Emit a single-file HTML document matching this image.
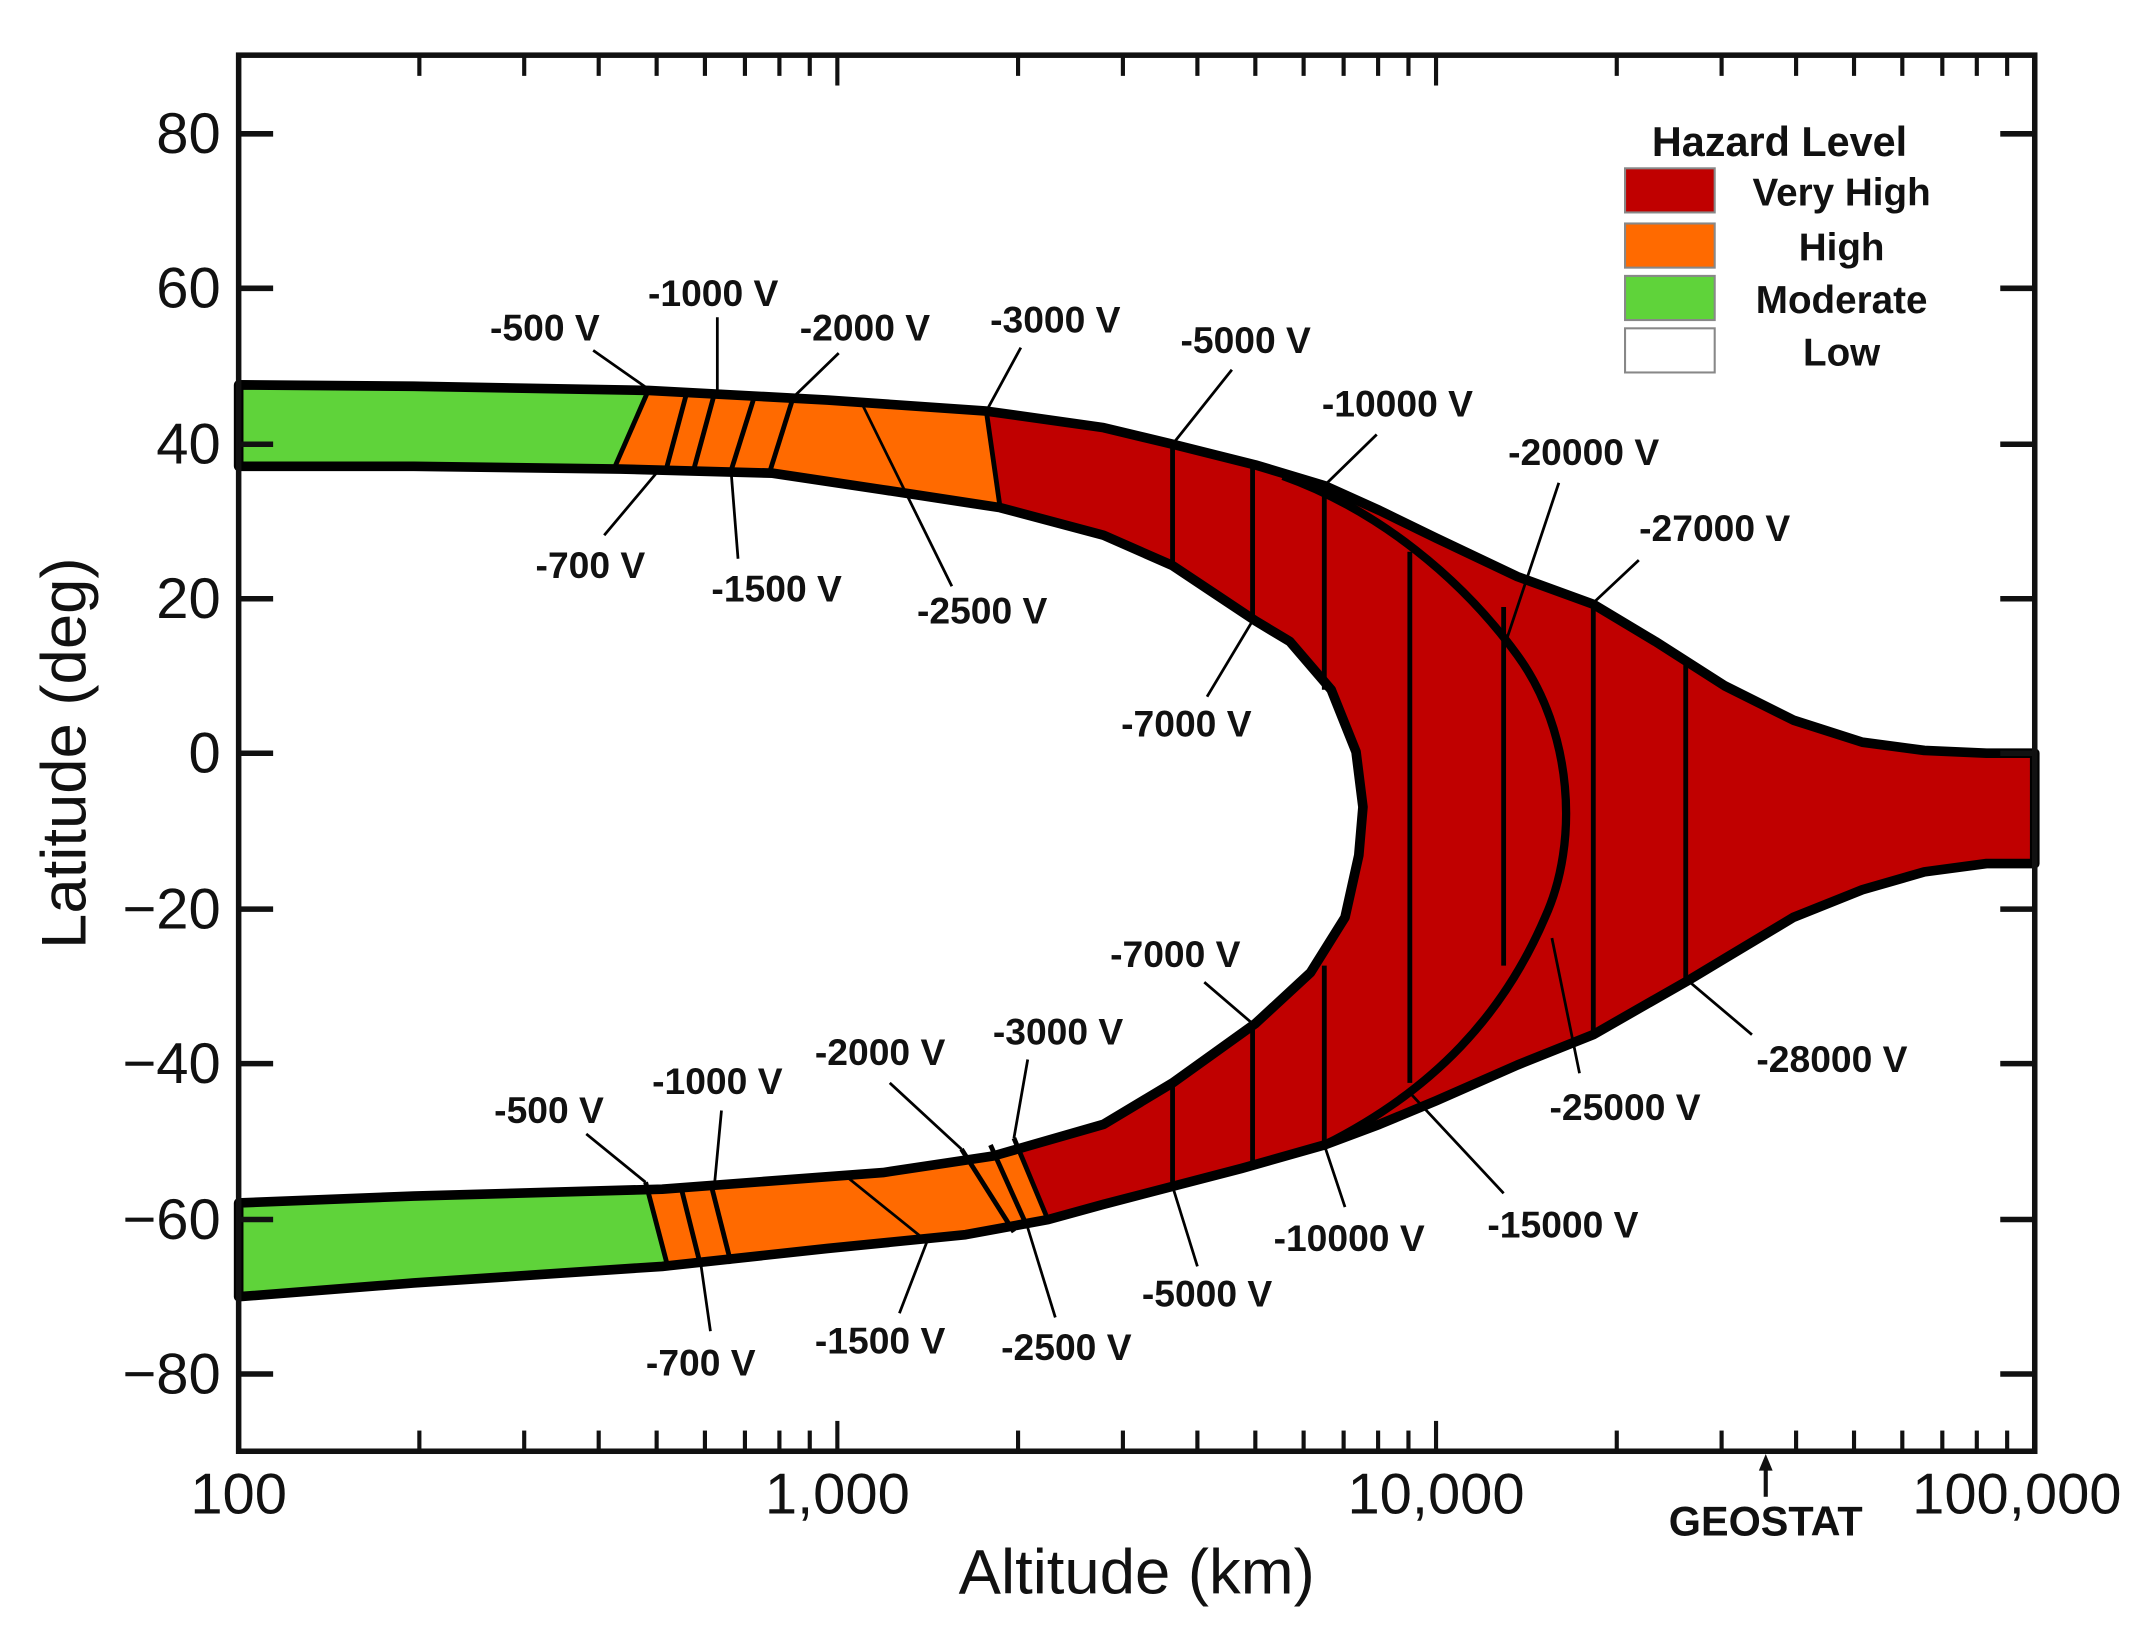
<!DOCTYPE html>
<html><head><meta charset="utf-8"><style>
html,body{margin:0;padding:0;background:#fff;}
svg{display:block;}
text{font-family:"Liberation Sans",Arial,sans-serif;fill:#111;}
.v{font-weight:bold;font-size:27px;text-anchor:middle;}
.t{font-size:42px;}
</style></head><body>
<svg width="2152" height="1627" viewBox="0 0 1560 1179.4" preserveAspectRatio="none" xmlns="http://www.w3.org/2000/svg">
<defs>
<clipPath id="band"><path id="bp" d="M173,279 L300,280 L470,283 L600,290 L715,298 L800,310 L850,322 L910,337 L960,352 L1000,370 L1041,390 L1100,418 L1155,438 L1200,465 L1250,497 L1300,522 L1350,538 L1395,544 L1440,546 L1475,546 L1475,626 L1440,626 L1395,632 L1350,645 L1300,665 L1250,695 L1225,710 L1155,750 L1100,772 L1041,798 L1000,815 L960,830 L900,847 L850,860 L800,873 L760,884 L700,895 L600,905 L480,918 L300,930 L173,940 L173,872 L300,867 L480,862 L640,850 L720,838 L800,815 L850,785 L910,742 L950,705 L975,665 L985,620 L988,585 L983,545 L965,500 L935,465 L910,450 L880,430 L850,410 L800,388 L725,368 L640,355 L560,343 L450,340 L300,338 L173,338 Z"/></clipPath>
</defs>
<g clip-path="url(#band)">
<rect x="150" y="250" width="1350" height="720" fill="#c00000"/>
<polygon points="150,250 470,250 470,283 445,340 458,400 150,400" fill="#ff6a00"/>
<polygon points="445,250 712,250 715,298 725,368 730,420 430,420" fill="#ff6a00"/>
<polygon points="150,250 470,250 470,283 445,340 440,420 150,420" fill="#5fd33a"/>
<polygon points="460,800 732,800 735,825 760,885 770,960 480,960 484,918 468,857" fill="#ff6a00"/>
<polygon points="150,800 465,800 468,857 484,918 488,960 150,960" fill="#5fd33a"/>
</g>
<use href="#bp" fill="none" stroke="#000" stroke-width="7" stroke-linejoin="round"/>
<g stroke="#000" stroke-width="3.5" fill="none">
<line x1="715" y1="298" x2="725" y2="368"/><line x1="470" y1="283" x2="445" y2="340"/>
<line x1="735" y1="825" x2="760" y2="885"/><line x1="468" y1="857" x2="484" y2="918"/>
<line x1="498" y1="284" x2="483" y2="340"/><line x1="518" y1="285" x2="503" y2="340"/>
<line x1="547" y1="287" x2="530" y2="341"/><line x1="575" y1="288" x2="558" y2="342"/>
<line x1="493" y1="858" x2="508" y2="918"/><line x1="515" y1="857" x2="530" y2="916"/>
<line x1="697" y1="833" x2="735" y2="893"/><line x1="718" y1="830" x2="745" y2="890"/>
<line x1="850" y1="322" x2="850" y2="410"/><line x1="850" y1="785" x2="850" y2="860"/>
<line x1="908" y1="337" x2="908" y2="450"/><line x1="908" y1="742" x2="908" y2="847"/>
<line x1="960" y1="352" x2="960" y2="500"/><line x1="960" y1="700" x2="960" y2="830"/>
<line x1="1022" y1="400" x2="1022" y2="785"/>
<line x1="1090" y1="440" x2="1090" y2="700"/>
<line x1="1155" y1="437" x2="1155" y2="750"/>
<line x1="1222" y1="482" x2="1222" y2="712"/>
</g>
<path d="M930,345 C1000,370 1060,420 1100,475 C1140,530 1145,610 1120,665 C1090,735 1040,790 960,830" fill="none" stroke="#000" stroke-width="6"/>
<g stroke="#000" stroke-width="2" fill="none">
<line x1="430" y1="254" x2="470" y2="282"/><line x1="520" y1="230" x2="520" y2="286"/>
<line x1="608" y1="256" x2="575" y2="288"/><line x1="740" y1="252" x2="715" y2="298"/>
<line x1="893" y1="268" x2="850" y2="322"/><line x1="998" y1="315" x2="960" y2="352"/>
<line x1="1130" y1="350" x2="1090" y2="470"/><line x1="1188" y1="406" x2="1155" y2="437"/>
<line x1="438" y1="388" x2="480" y2="338"/><line x1="535" y1="405" x2="530" y2="342"/>
<line x1="690" y1="425" x2="625" y2="293"/><line x1="875" y1="505" x2="908" y2="450"/>
<line x1="873" y1="712" x2="908" y2="742"/><line x1="745" y1="768" x2="735" y2="825"/>
<line x1="645" y1="785" x2="697" y2="833"/><line x1="425" y1="822" x2="468" y2="857"/>
<line x1="523" y1="805" x2="518" y2="858"/><line x1="515" y1="965" x2="508" y2="916"/>
<line x1="652" y1="952" x2="672" y2="900"/><line x1="610" y1="850" x2="672" y2="900"/>
<line x1="765" y1="955" x2="745" y2="890"/><line x1="868" y1="918" x2="850" y2="860"/>
<line x1="975" y1="875" x2="960" y2="830"/><line x1="1090" y1="865" x2="1020" y2="790"/>
<line x1="1145" y1="778" x2="1125" y2="680"/><line x1="1270" y1="750" x2="1225" y2="712"/>
</g>
<g class="v">
<text x="395" y="247" class="v">-500 V</text><text x="517" y="222" class="v">-1000 V</text>
<text x="627" y="247" class="v">-2000 V</text><text x="765" y="241" class="v">-3000 V</text>
<text x="903" y="256" class="v">-5000 V</text><text x="1013" y="302" class="v">-10000 V</text>
<text x="1148" y="337" class="v">-20000 V</text><text x="1243" y="392" class="v">-27000 V</text>
<text x="428" y="419" class="v">-700 V</text><text x="563" y="436" class="v">-1500 V</text>
<text x="712" y="452" class="v">-2500 V</text><text x="860" y="534" class="v">-7000 V</text>
<text x="852" y="701" class="v">-7000 V</text><text x="767" y="757" class="v">-3000 V</text>
<text x="638" y="772" class="v">-2000 V</text><text x="398" y="814" class="v">-500 V</text>
<text x="520" y="793" class="v">-1000 V</text><text x="508" y="997" class="v">-700 V</text>
<text x="638" y="981" class="v">-1500 V</text><text x="773" y="986" class="v">-2500 V</text>
<text x="875" y="947" class="v">-5000 V</text><text x="978" y="907" class="v">-10000 V</text>
<text x="1133" y="897" class="v">-15000 V</text><text x="1178" y="812" class="v">-25000 V</text>
<text x="1328" y="777" class="v">-28000 V</text>
</g>
<!-- frame -->
<rect x="173" y="40" width="1302" height="1012" fill="none" stroke="#111" stroke-width="4"/>
<g stroke="#111" stroke-width="4">
<line x1="173" y1="97" x2="198" y2="97"/><line x1="1450" y1="97" x2="1475" y2="97"/>
<line x1="173" y1="209" x2="198" y2="209"/><line x1="1450" y1="209" x2="1475" y2="209"/>
<line x1="173" y1="322" x2="198" y2="322"/><line x1="1450" y1="322" x2="1475" y2="322"/>
<line x1="173" y1="434" x2="198" y2="434"/><line x1="1450" y1="434" x2="1475" y2="434"/>
<line x1="173" y1="546" x2="198" y2="546"/><line x1="1450" y1="546" x2="1475" y2="546"/>
<line x1="173" y1="659" x2="198" y2="659"/><line x1="1450" y1="659" x2="1475" y2="659"/>
<line x1="173" y1="771" x2="198" y2="771"/><line x1="1450" y1="771" x2="1475" y2="771"/>
<line x1="173" y1="884" x2="198" y2="884"/><line x1="1450" y1="884" x2="1475" y2="884"/>
<line x1="173" y1="996" x2="198" y2="996"/><line x1="1450" y1="996" x2="1475" y2="996"/>
</g>
<g stroke="#111" stroke-width="3" id="xt">
<line x1="304" y1="1052" x2="304" y2="1037"/><line x1="380" y1="1052" x2="380" y2="1037"/><line x1="434" y1="1052" x2="434" y2="1037"/><line x1="476" y1="1052" x2="476" y2="1037"/><line x1="511" y1="1052" x2="511" y2="1037"/><line x1="540" y1="1052" x2="540" y2="1037"/><line x1="565" y1="1052" x2="565" y2="1037"/><line x1="587" y1="1052" x2="587" y2="1037"/><line x1="607" y1="1052" x2="607" y2="1030"/>
<line x1="738" y1="1052" x2="738" y2="1037"/><line x1="814" y1="1052" x2="814" y2="1037"/><line x1="868" y1="1052" x2="868" y2="1037"/><line x1="910" y1="1052" x2="910" y2="1037"/><line x1="945" y1="1052" x2="945" y2="1037"/><line x1="974" y1="1052" x2="974" y2="1037"/><line x1="999" y1="1052" x2="999" y2="1037"/><line x1="1021" y1="1052" x2="1021" y2="1037"/><line x1="1041" y1="1052" x2="1041" y2="1030"/>
<line x1="1172" y1="1052" x2="1172" y2="1037"/><line x1="1248" y1="1052" x2="1248" y2="1037"/><line x1="1302" y1="1052" x2="1302" y2="1037"/><line x1="1344" y1="1052" x2="1344" y2="1037"/><line x1="1379" y1="1052" x2="1379" y2="1037"/><line x1="1408" y1="1052" x2="1408" y2="1037"/><line x1="1433" y1="1052" x2="1433" y2="1037"/><line x1="1455" y1="1052" x2="1455" y2="1037"/>
</g>
<use href="#xt" transform="translate(0,1092) scale(1,-1)"/>
<g class="t" text-anchor="end">
<text x="160" y="111" class="t">80</text><text x="160" y="223" class="t">60</text>
<text x="160" y="336" class="t">40</text><text x="160" y="448" class="t">20</text>
<text x="160" y="560" class="t">0</text><text x="160" y="673" class="t">−20</text>
<text x="160" y="785" class="t">−40</text><text x="160" y="898" class="t">−60</text>
<text x="160" y="1010" class="t">−80</text>
</g>
<g text-anchor="middle">
<text x="173" y="1097" class="t">100</text><text x="607" y="1097" class="t">1,000</text>
<text x="1041" y="1097" class="t">10,000</text><text x="1462" y="1097" class="t">100,000</text>
<text x="824" y="1155" style="font-size:46px">Altitude (km)</text>
<text transform="translate(62,546) rotate(-90)" style="font-size:46px">Latitude (deg)</text>
<text x="1280" y="1113" style="font-size:30px;font-weight:bold">GEOSTAT</text>
</g>
<line x1="1280" y1="1085" x2="1280" y2="1062" stroke="#111" stroke-width="3"/>
<polygon points="1280,1054 1275,1066 1285,1066" fill="#111"/>
<!-- legend -->
<text x="1290" y="113" text-anchor="middle" style="font-size:30px;font-weight:bold">Hazard Level</text>
<rect x="1178" y="122" width="65" height="32" fill="#c00000" stroke="#888" stroke-width="1.5"/>
<rect x="1178" y="162" width="65" height="32" fill="#ff6a00" stroke="#888" stroke-width="1.5"/>
<rect x="1178" y="200" width="65" height="32" fill="#5fd33a" stroke="#888" stroke-width="1.5"/>
<rect x="1178" y="238" width="65" height="32" fill="#fff" stroke="#888" stroke-width="1.5"/>
<g text-anchor="middle" style="font-size:28px;font-weight:bold">
<text x="1335" y="149">Very High</text><text x="1335" y="189">High</text>
<text x="1335" y="227">Moderate</text><text x="1335" y="265">Low</text>
</g>
</svg>
</body></html>
